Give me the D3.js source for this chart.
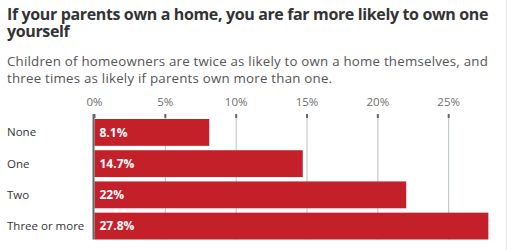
<!DOCTYPE html>
<html><head><meta charset="utf-8">
<script src="https://cdn.jsdelivr.net/npm/d3@7"></script>
<style>
body{margin:0;background:#fff;}
svg{display:block;font-family:"Open Sans",sans-serif;}
</style></head>
<body>
<svg id="c" width="511" height="250"></svg>
<script>
const categories = ["None", "One", "Two", "Three or more"];
const values = [8.1, 14.7, 22, 27.8];
const valueLabels = ["8.1%", "14.7%", "22%", "27.8%"];
const tickValues = [0, 5, 10, 15, 20, 25];
const tickLabels = ["0%", "5%", "10%", "15%", "20%", "25%"];
const titleLines = ["If your parents own a home, you are far more likely to own one", "yourself"];
const subtitleLines = ["Children of homeowners are twice as likely to own a home themselves, and", "three times as likely if parents own more than one."];

const svg = d3.select("#c");

svg.append("line").attr("x1",506.5).attr("x2",506.5).attr("y1",0).attr("y2",250)
  .attr("stroke","#e8e8e8").attr("stroke-width",1);

function fitSpacing(sel, target){
  const n = sel.filter((d,i)=>i===0).node();
  const w = n.getComputedTextLength();
  const len = n.textContent.length;
  sel.attr("letter-spacing", ((target - w)/len) + "px");
}

const tt = svg.selectAll("text.title").data(titleLines).join("text")
  .attr("class","title").attr("x",7).attr("y",(d,i)=>20.3+i*16.7)
  .attr("font-size",16).attr("font-weight",700).attr("fill","#333").text(d=>d);
fitSpacing(tt, 481);

const st = svg.selectAll("text.sub").data(subtitleLines).join("text")
  .attr("class","sub").attr("x",7).attr("y",(d,i)=>65.8+i*17)
  .attr("font-size",13.3).attr("fill","#555").text(d=>d);
fitSpacing(st, 481);

const x = d3.scaleLinear().domain([0, 28]).range([94.5, 491.2]);
const y = d3.scaleBand().domain(categories).range([119, 239.5]).paddingInner(0.14).paddingOuter(0);

// gridlines
const g = svg.append("g");
g.selectAll("line.grid").data(tickValues.filter(d=>d>0)).join("line")
  .attr("class","grid").attr("x1",d=>x(d)).attr("x2",d=>x(d))
  .attr("y1",117).attr("y2",239.5).attr("stroke","#b6c1c7").attr("stroke-width",1);
g.selectAll("line.tk").data(tickValues).join("line")
  .attr("class","tk").attr("x1",d=>x(d)).attr("x2",d=>x(d))
  .attr("y1",114).attr("y2",118).attr("stroke","#666").attr("stroke-width",2);
g.selectAll("text.tl").data(tickValues).join("text")
  .attr("class","tl").attr("x",d=>x(d)).attr("y",106).attr("text-anchor","middle")
  .attr("font-size",11.5).attr("fill","#6e6e6e").text((d,i)=>tickLabels[i]);

// bars
svg.selectAll("rect.bar").data(values).join("rect")
  .attr("class","bar").attr("x",x(0)).attr("y",(d,i)=>y(categories[i]))
  .attr("width",d=>x(d)-x(0)).attr("height",y.bandwidth()).attr("fill","#c4202a");

svg.selectAll("text.val").data(values).join("text")
  .attr("class","val").attr("x",x(0)+5).attr("y",(d,i)=>y(categories[i])+y.bandwidth()/2)
  .attr("dy","0.35em").attr("font-size",12).attr("font-weight",700).attr("fill","#fff")
  .text((d,i)=>valueLabels[i]);

svg.selectAll("text.cat").data(categories).join("text")
  .attr("class","cat").attr("x",7).attr("y",d=>y(d)+y.bandwidth()/2)
  .attr("dy","0.35em").attr("font-size",11.5).attr("fill","#333").text(d=>d);

// zero line
svg.append("line").attr("x1",x(0)-1).attr("x2",x(0)-1).attr("y1",114).attr("y2",239.5)
  .attr("stroke","#666").attr("stroke-width",2);
</script>
</body></html>
